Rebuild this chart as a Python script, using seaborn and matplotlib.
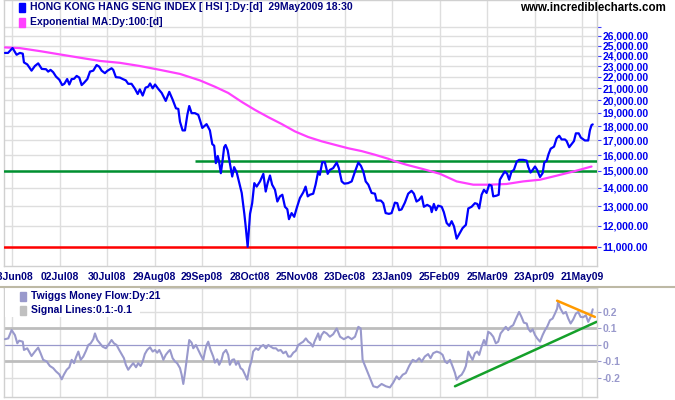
import matplotlib
matplotlib.use('Agg')
import matplotlib.pyplot as plt
from matplotlib.patches import Rectangle
from matplotlib.lines import Line2D
from matplotlib.ticker import NullLocator
import seaborn as sns

# ---- data (x = trading day index) ----
hsi_day = [0.0, 1.3, 3.2, 4.9, 6.3, 7.5, 8.0, 9.4, 11.2, 12.6, 14.0, 15.5, 17.3, 18.2, 19.2, 20.3, 21.5, 22.9, 24.1, 25.0,
           26.2, 27.1, 28.1, 29.1, 30.2, 31.3, 32.3, 33.3, 34.7, 35.8, 37.2, 38.6, 39.7, 40.7, 42.1, 43.1, 44.9, 45.6, 46.7, 48.4,
           49.6, 50.9, 51.9, 53.3, 54.7, 55.9, 56.8, 58.0, 59.2, 60.3, 61.1, 62.2, 63.2, 64.5, 66.0, 67.7, 69.2, 70.6, 72.0, 73.0,
           73.7, 74.8, 75.8, 76.8, 77.6, 78.6,
           80.0, 81.4, 82.1, 83.1, 84.9, 86.3, 87.3, 88.1, 88.8, 89.6, 90.1, 90.9, 91.5, 92.3, 92.9, 93.8, 94.7, 95.7, 96.5, 97.6,
           98.5, 99.7, 100.8, 101.3, 102.2, 102.7, 103.2, 104.1, 105.0, 106.0, 107.4, 108.8, 109.8, 110.6, 111.6, 112.5, 113.7, 114.7, 115.8, 116.8,
           117.9, 118.9, 119.6, 120.7, 121.8, 122.8, 124.2, 125.6, 126.6, 127.5, 128.4, 129.8, 130.8, 131.9, 132.6, 133.6, 134.7, 135.9, 136.8, 138.2,
           139.7, 140.6, 141.8, 142.9, 144.5, 146.0, 147.4, 148.8, 149.9, 150.9, 151.9, 153.0, 154.4, 155.8, 156.5, 158.3, 159.3, 160.3, 161.7, 162.8,
           164.2, 165.2, 166.0, 167.0, 168.4, 169.8, 171.2, 172.2, 173.3, 174.4, 175.5, 176.4, 177.8, 179.2, 179.7, 180.6, 181.5, 182.4, 183.9, 184.8,
           186.0, 187.1, 188.1, 189.1, 190.2, 191.3, 192.7, 194.1, 195.1, 196.5, 197.9, 198.9, 199.7, 200.7, 201.7, 202.8, 203.9, 204.9, 205.6, 207.0,
           207.9, 208.4, 209.6, 210.5, 211.5, 212.3, 213.3, 214.3, 215.5, 216.5, 218.2, 219.7, 220.3, 221.3, 222.2, 223.2, 224.1, 225.3, 226.4, 227.1,
           228.1, 228.9, 229.8, 231.2, 232.3, 233.4, 234.4, 235.8, 236.5, 237.6, 238.6, 239.6, 240.4, 241.6, 242.5, 244.2, 245.6, 246.3, 247.0, 247.5]
hsi_close = [24260, 24260, 24750, 24080, 24260, 24190, 23340, 23150, 22570, 23000, 23250, 22730, 22700, 22480, 22640, 22430, 22030, 21750, 21280, 21390,
             21810, 21330, 21810, 21830, 22090, 21940, 21280, 21480, 21810, 22480, 22570, 23090, 22940, 22570, 22340, 22550, 22790, 22640, 21980, 21940,
             21810, 21690, 21390, 21390, 20970, 20520, 20910, 20390, 21060, 21140, 21420, 21000, 21330, 20970, 20610, 19950, 20700, 20060, 19360, 19310,
             18330, 17690, 17690, 18850, 19540, 18980,
             18980, 18850, 18460, 17870, 18150, 17690, 16730, 16620, 15480, 15940, 15640, 14860, 15480, 16520, 16670, 16310, 15480, 14660, 15230, 14900,
             14370, 13710, 12590, 12040, 11010, 11740, 12590, 13150, 14270, 14070, 14370, 14820, 13790, 14270, 14720, 14180, 13890, 13240, 13520, 13610,
             12960, 12830, 12320, 12630, 12440, 12870, 13430, 13740, 14070, 13520, 13610, 13670, 14180, 14960, 14760, 15540, 15540, 14820, 15060, 15170,
             15520, 15170, 14370, 14240, 14270, 14370, 14960, 15520, 15310, 14960, 14370, 14180, 13710, 13670, 13290, 13290, 13150, 12630, 12590, 12630,
             13180, 13150, 12780, 12820, 13180, 13670, 13830, 13670, 13240, 13330, 13520, 12960, 13060, 12960, 12680, 13110, 12780, 13020, 12960, 12680,
             12130, 11990, 12220, 11960, 11380, 11600, 11880, 12040, 12870, 12960, 13150, 13110, 12870, 13610, 13890, 13710, 14180, 14120, 13520, 13560,
             13610, 14470, 14760, 14960, 14820, 14470, 14960, 15060, 15580, 15690, 15690, 15640, 15270, 14900, 15060, 15270, 15060, 14630, 14860, 15520,
             15630, 16060, 16420, 16560, 17130, 17310, 17050, 17050, 16940, 16520, 16730, 16940, 17480, 17480, 17180, 16980, 16980, 17690, 18080, 18130]

ema_day = [0.0, 6.3, 14.7, 23.2, 31.6, 40.0, 48.4, 56.8, 65.3, 73.7, 82.1, 88.4, 94.0, 99.7, 105.3, 110.9, 116.5, 122.1, 127.7, 133.4,
           139.0, 144.5, 150.2, 155.8, 161.4, 164.2, 169.1, 176.1, 183.2, 190.2, 197.2, 204.2, 211.2, 218.2, 225.3, 232.3, 239.3, 247.0]
ema_value = [24810, 24740, 24440, 24110, 23790, 23480, 23300, 23000, 22640, 22270, 21690, 21140, 20610, 19870, 19230, 18670, 18160, 17620, 17220, 16920,
             16680, 16450, 16260, 16020, 15760, 15600, 15380, 15110, 14820, 14370, 14180, 14180, 14220, 14370, 14470, 14710, 14960, 15270]

support_level = 15000
resistance_level = 15630
resistance_start = 80.0
low_level = 11000

tmf_day = [0.0, 1.4, 2.8, 4.2, 5.2, 6.0, 7.5, 8.0, 9.4, 11.2, 12.6, 14.0, 15.0, 16.1, 17.6, 18.9, 20.3, 21.5, 22.9, 23.9,
           24.8, 26.0, 27.1, 28.1, 29.1, 29.9, 30.9, 31.9, 33.0, 34.1, 35.1, 36.1, 37.2, 37.9, 38.9, 40.0, 41.1, 42.5, 43.5, 44.9,
           45.9, 47.0, 48.1, 49.1, 50.1, 50.9, 51.9, 52.9, 54.0, 55.2, 56.1, 57.1, 58.0, 58.9, 59.9, 61.1, 62.2, 63.2, 64.1, 65.0,
           66.0, 66.7, 67.7, 68.8, 69.5, 70.6, 71.6, 72.5, 73.7, 74.4, 75.1, 75.8, 76.8, 77.6, 78.6, 79.3, 80.4, 81.4, 82.4, 83.5,
           84.2, 84.9, 85.6, 86.6, 87.7, 88.4, 89.4, 90.2, 91.2, 91.9, 93.1, 94.0, 94.7, 95.7, 96.5, 97.3, 98.2, 99.2, 100.1, 101.1,
           102.0, 102.9, 103.9, 104.5, 105.7, 106.7, 107.7, 108.8, 109.9, 110.9, 111.9, 113.0, 114.1, 115.1, 116.1, 117.2, 118.3, 119.3, 120.3, 121.4,
           122.5, 123.5, 124.5, 125.6, 126.7, 127.7, 128.7, 129.6, 130.5, 131.2, 131.9, 132.6, 133.3, 134.3, 135.5, 136.8, 138.2, 139.7, 141.1,
           142.7, 144.5, 146.0, 147.4, 148.8, 149.8, 150.6, 152.0, 153.4, 155.1, 156.8, 158.6, 160.4, 162.1, 163.5, 164.9, 166.0, 167.5, 168.8, 170.2,
           171.7, 173.1, 174.4, 175.5, 176.8, 178.2, 179.2, 180.3, 181.8, 183.2, 184.3, 185.3, 186.2, 187.4, 188.5, 189.5, 190.2, 191.3, 192.3, 193.3,
           194.1, 195.1, 196.1, 196.9, 197.9, 198.9, 199.7, 200.7, 201.7, 202.5, 203.5, 204.5, 205.6, 206.7, 207.7, 208.7, 209.8, 210.9, 211.9, 212.9,
           214.0, 215.2, 216.5, 217.5, 218.5, 219.7, 220.3, 221.3, 222.2, 223.2, 224.1, 225.3, 226.4, 227.4, 228.3, 229.5, 230.6, 231.6, 232.5, 232.9,
           233.9, 235.1, 236.2, 237.2, 238.2, 239.3, 240.4, 241.4, 242.4, 243.5, 244.6, 245.6, 246.6, 247.5]
tmf_value = [0.035, 0.04, 0.09, 0.06, 0.01, 0.026, 0.02, -0.03, -0.02, -0.067, -0.04, -0.016, -0.05, -0.09, -0.10, -0.127, -0.14, -0.16, -0.178, -0.208,
             -0.18, -0.15, -0.135, -0.09, -0.11, -0.075, -0.04, -0.09, -0.07, -0.036, 0.0, 0.01, 0.035, 0.07, 0.03, 0.01, -0.01, -0.02, 0.0, 0.03,
             0.01, 0.0, -0.03, -0.055, -0.08, -0.12, -0.15, -0.13, -0.11, -0.135, -0.11, -0.127, -0.10, -0.055, -0.03, -0.014, -0.04, -0.03, -0.047, -0.03,
             -0.06, -0.09, -0.06, -0.04, -0.03, -0.08, -0.10, -0.11, -0.14, -0.18, -0.236, -0.17, -0.06, 0.03, 0.014, -0.02, 0.0, -0.03, -0.06, -0.09,
             -0.04, 0.0, 0.02, -0.03, -0.07, -0.107, -0.087, -0.12, -0.09, -0.05, -0.03, -0.06, -0.12, -0.09, -0.087, -0.12, -0.10, -0.14, -0.15, -0.18,
             -0.21, -0.14, -0.09, -0.04, -0.02, -0.03, -0.01, 0.0, -0.02, 0.0, -0.01, -0.02, -0.02, -0.035, -0.03, -0.05, -0.04, -0.07, -0.07, -0.047,
             -0.035, 0.0, 0.01, 0.02, 0.04, 0.02, 0.01, -0.01, 0.026, 0.047, 0.07, 0.03, 0.06, 0.08, 0.07, 0.05, 0.065, 0.10, 0.05,
             0.035, 0.05, 0.035, 0.05, 0.11, 0.10, -0.09, -0.14, -0.19, -0.25, -0.257, -0.236, -0.25, -0.257, -0.228, -0.19, -0.208, -0.18, -0.17, -0.127,
             -0.09, -0.10, -0.08, -0.10, -0.07, -0.055, -0.08, -0.05, -0.04, -0.047, -0.06, -0.10, -0.11, -0.09, -0.13, -0.17, -0.21, -0.19, -0.18, -0.155,
             -0.127, -0.04, -0.07, -0.09, -0.05, -0.04, -0.06, -0.01, 0.03, 0.0, 0.08, 0.07, 0.05, 0.01, 0.02, 0.07, 0.09, 0.11, 0.09, 0.11,
             0.12, 0.16, 0.20, 0.17, 0.135, 0.13, 0.10, 0.08, 0.095, 0.06, 0.04, 0.02, 0.06, 0.09, 0.11, 0.15, 0.16, 0.19, 0.22, 0.26,
             0.22, 0.19, 0.20, 0.16, 0.13, 0.155, 0.19, 0.20, 0.17, 0.168, 0.18, 0.14, 0.17, 0.216]

signal_levels = [0.1, -0.1]
tmf_grid_levels = [0.2, -0.2]
trend_up_day = [189.5, 249.1]
trend_up_value = [-0.25, 0.14]
trend_down_day = [232.5, 248.4]
trend_down_value = [0.268, 0.17]

tick_days = [3, 23, 43, 63, 83, 103, 123, 143, 163, 183, 203, 223, 243]
tick_labels = ['03Jun08', '02Jul08', '30Jul08', '29Aug08', '29Sep08', '28Oct08', '25Nov08',
               '23Dec08', '23Jan09', '25Feb09', '25Mar09', '23Apr09', '21May09']
price_levels = list(range(11000, 28000, 1000))
tmf_ticks = [0.2, 0.1, 0, -0.1, -0.2]
tmf_tick_labels = ['0.2', '0.1', '0', '-0.1', '-0.2']

# ---- style ----
sns.set_style('white')
plt.rcParams['font.family'] = ['Liberation Sans', 'DejaVu Sans']
plt.rcParams['font.weight'] = 'bold'

W, H = 675, 400
fig = plt.figure(figsize=(W / 100, H / 100), dpi=100)
fig.patch.set_facecolor('white')


def fx(px):
    return px / W


def fy(py):
    return 1 - py / H


XMIN, XMAX = -0.4, 249.3
GRID = '#dedede'
FRAME = '#d0d0d0'
NAVY = '#000080'

ax1 = fig.add_axes([fx(4), fy(266), fx(597) - fx(4), fy(0) - fy(266)])
ax2 = fig.add_axes([fx(4), fy(397), fx(597) - fx(4), fy(288) - fy(397)])

# ---- main panel ----
ax1.set_yscale('log')
ax1.set_xlim(XMIN, XMAX)
ax1.set_ylim(10180, 30100)
ax1.axhline(low_level, color='#ff0000', lw=1.8, zorder=3)
ax1.axhline(support_level, color='#009030', lw=1.8, zorder=3)
ax1.hlines(resistance_level, resistance_start, XMAX, color='#009030', lw=1.8, zorder=3)
sns.lineplot(x=ema_day, y=ema_value, ax=ax1, color='#ff40ff', linewidth=1.6,
             sort=False, estimator=None, zorder=4)
sns.lineplot(x=hsi_day, y=hsi_close, ax=ax1, color='#0000ff', linewidth=1.6,
             sort=False, estimator=None, zorder=5)

ax1.yaxis.set_minor_locator(NullLocator())
ax1.set_yticks(price_levels, [f'{v:,.2f}' if v <= 26000 else '' for v in price_levels])
ax1.yaxis.tick_right()
ax1.tick_params(axis='y', which='major', length=3, width=0.8, color='#4040ff', pad=1,
                labelsize=7.5, labelcolor='#0000ee')
ax1.set_xticks(tick_days, tick_labels)
ax1.tick_params(axis='x', length=0, pad=4, labelsize=7.5, labelcolor=NAVY)
ax1.grid(True, color=GRID, lw=1.0)
ax1.set_axisbelow(True)
ax1.set_xlabel('')
ax1.set_ylabel('')

# ---- lower panel ----
ax2.set_xlim(XMIN, XMAX)
ax2.set_ylim(-0.315, 0.345)
for lvl in tmf_grid_levels:
    ax2.axhline(lvl, color=GRID, lw=1.0, zorder=1)
for lvl in signal_levels:
    ax2.axhline(lvl, color='#bdbdbd', lw=2.0, zorder=2)
ax2.axhline(0, color='#9999cc', lw=0.9, zorder=2)
sns.lineplot(x=tmf_day, y=tmf_value, ax=ax2, color='#9999cc', linewidth=1.5,
             sort=False, estimator=None, zorder=4)
sns.lineplot(x=trend_up_day, y=trend_up_value, ax=ax2, color='#15a02a', linewidth=1.8,
             sort=False, estimator=None, zorder=5)
sns.lineplot(x=trend_down_day, y=trend_down_value, ax=ax2, color='#ff9a00', linewidth=1.8,
             sort=False, estimator=None, zorder=5)

ax2.set_xticks(tick_days)
ax2.tick_params(axis='x', length=0, labelbottom=False)
ax2.grid(True, axis='x', color=GRID, lw=1.0)
ax2.set_axisbelow(True)
ax2.set_yticks(tmf_ticks, tmf_tick_labels)
ax2.yaxis.tick_right()
ax2.tick_params(axis='y', length=3, width=0.8, color='#9999cc', pad=1,
                labelsize=7.5, labelcolor='#9999cc')
ax2.set_xlabel('')
ax2.set_ylabel('')

for ax in (ax1, ax2):
    for sp in ax.spines.values():
        sp.set_color(FRAME)
        sp.set_linewidth(1.0)

# white patch behind the lower legend, as in the original
fig.add_artist(Rectangle((fx(5), fy(317)), 135 / W, 29 / H, transform=fig.transFigure,
                         facecolor='white', edgecolor='none'))


# ---- legends and titles ----
def legend_entry(px, py, color, label):
    fig.add_artist(Rectangle((fx(px), fy(py + 4.5)), 6 / W, 9 / H,
                             transform=fig.transFigure, color=color))
    fig.text(fx(px + 11), fy(py), label, ha='left', va='center',
             color=NAVY, fontsize=7.5, weight='bold')


legend_entry(19, 7, '#0000ff', 'HONG KONG HANG SENG INDEX [ HSI ]:Dy:[d]  29May2009 18:30')
legend_entry(19, 22, '#ff40ff', 'Exponential MA:Dy:100:[d]')
legend_entry(20, 296, '#9999cc', 'Twiggs Money Flow:Dy:21')
legend_entry(20, 310, '#c0c0c0', 'Signal Lines:0.1:-0.1')

fig.text(fx(666), fy(8), 'www.incrediblecharts.com', ha='right', va='center',
         fontsize=8.3, weight='bold', color='black')

fig.add_artist(Line2D([0, 1], [fy(286.5), fy(286.5)], transform=fig.transFigure,
                      color='#bdb9a5', lw=1.5))

fig.savefig('out.png', dpi=100, facecolor='white')
